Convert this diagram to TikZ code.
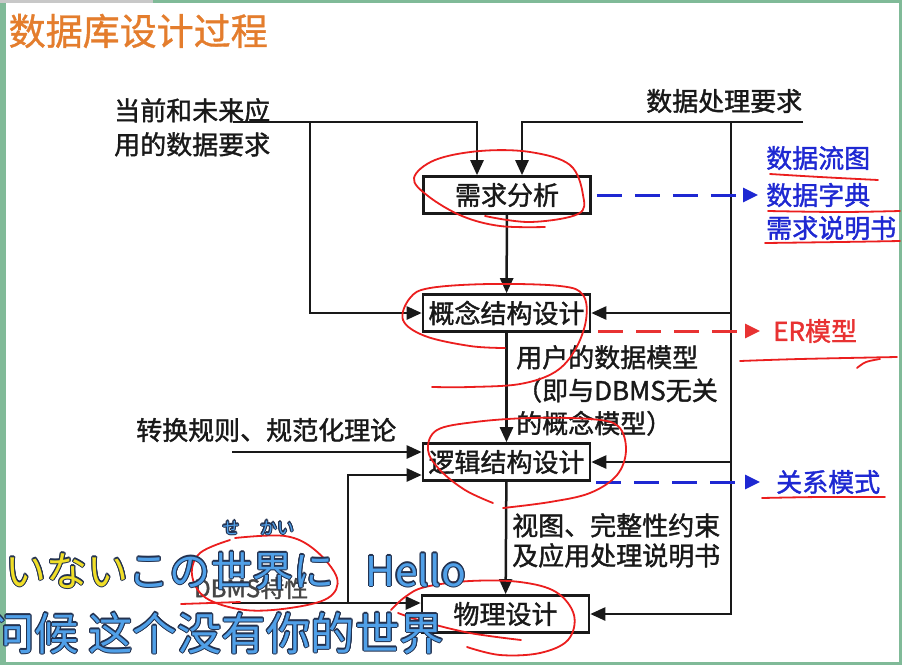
\documentclass[tikz,border=0pt]{standalone}
\usepackage{fontspec}
\setmainfont{Noto Sans CJK SC}[FakeBold=1.4]
\newfontfamily\titlefont{Noto Sans CJK SC}[FakeBold=1]
\newfontfamily\subcn{Noto Sans CJK SC}
\newfontfamily\jpfont{Noto Sans CJK JP}
\usetikzlibrary{arrows.meta}
\definecolor{frameg}{RGB}{128,186,152}
\definecolor{topgray}{RGB}{200,200,200}
\definecolor{ink}{RGB}{25,25,25}
\definecolor{titleor}{RGB}{228,125,45}
\definecolor{outblue}{RGB}{30,40,210}
\definecolor{outred}{RGB}{232,50,50}
\definecolor{penred}{RGB}{235,30,30}
\definecolor{subblue}{RGB}{80,160,232}
\definecolor{subdark}{RGB}{35,50,80}
\definecolor{subyel}{RGB}{240,222,40}
\definecolor{dimtext}{RGB}{70,70,70}
\newcommand\yel{\color{subyel}}
\newcommand\subtl[5]{%
  \foreach \ang in {0,30,...,330}{\node[subsh,anchor=#2,shift={(\ang:1.1)},font=#4] at #3 {#5};}
  \node[subfg,anchor=#2,font=#4] (#1) at #3 {#5};}
\begin{document}
\begin{tikzpicture}[x=1pt,y=-1pt,
  box/.style={draw=ink,line width=2.6pt,minimum width=167pt,minimum height=37pt,inner sep=0pt,fill=white,text=ink,font=\fontsize{26}{30}\selectfont},
  lbl/.style={inner sep=0pt,text=ink,align=left,font=\fontsize{26}{33}\selectfont},
  outb/.style={inner sep=0pt,text=outblue,font=\fontsize{26}{30}\selectfont},
  line/.style={draw=ink,line width=2.5pt},
  arr/.style={line,-{Triangle[length=15pt,width=13pt]}},
  bdash/.style={draw=outblue,line width=3pt,dash pattern=on 25pt off 13pt,-{Triangle[length=15pt,width=14pt]}},
  rdash/.style={draw=outred,line width=3pt,dash pattern=on 25pt off 13pt,-{Triangle[length=15pt,width=14pt]}},
  pen/.style={draw=penred,line width=1.8pt,line cap=round,line join=round},
  subsh/.style={inner sep=0pt,text=subdark,execute at begin node={\def\yel{}}},
  subfg/.style={inner sep=0pt,text=subblue}]
\useasboundingbox (0,0) rectangle (902,665);
% frame
\fill[frameg] (0,0) rectangle (902,665);
\fill[white] (6,3) rectangle (899,662);
\fill[topgray] (0,0) rectangle (153,3);
% title
\node[inner sep=0pt,anchor=west,text=titleor,font=\titlefont\fontsize{37}{40}\selectfont] (title) at (8.5,31) {数据库设计过程};
% process boxes
\node[box] (req) at (507,195) {需求分析};
\node[box] (con) at (506.5,313) {概念结构设计};
\node[box] (log) at (506.5,462) {逻辑结构设计};
\node[box] (phy) at (505.5,614) {物理设计};
% input texts
\node[lbl,anchor=north west] (txtA) at (114,98) {当前和未来应\\[1pt]用的数据要求};
\node[lbl,anchor=west] (txtB) at (646,101) {数据处理要求};
\node[lbl,anchor=west] (txtC) at (136,430) {转换规则、规范化理论};
\node[inner sep=0pt,anchor=west,text=dimtext,font=\fontsize{24}{28}\selectfont] (txtD) at (194,588) {DBMS特性};
\node[lbl,anchor=north west] (txtE) at (516,345) {用户的数据模型\\（即与DBMS无关\\的概念模型）};
\node[lbl,anchor=north west,font=\fontsize{26}{30}\selectfont] (txtF) at (512,513) {视图、完整性约束\\及应用处理说明书};
% outputs
\node[outb,anchor=west] (dfd) at (766,158) {数据流图};
\node[outb,anchor=west] (dd) at (766,195) {数据字典};
\node[outb,anchor=west] (srs) at (766,228) {需求说明书};
\node[inner sep=0pt,anchor=west,text=outred,font=\fontsize{26}{30}\selectfont] (er) at (773,331) {ER模型};
\node[outb,anchor=west] (rel) at (776,482) {关系模式};
% connectors
\coordinate (in1) at (233,122);
\coordinate (sp1) at (310,122);
\coordinate (in2) at (803,122);
\coordinate (sp2) at (731,122);
\draw[arr] (in1) -| ([xshift=-30pt]req.north);
\draw[arr] (sp1) |- (con.west);
\draw[arr] (in2) -| ([xshift=15pt]req.north);
\draw[arr] (sp2) |- (phy.east);
\draw[arr] (sp2 |- con.east) -- (con.east);
\draw[arr] (sp2 |- log.east) -- (log.east);
\draw[arr] (req) -- (con);
\draw[arr] (con) -- (log);
\draw[arr] (log) -- (phy);
\coordinate (in3) at (232,452);
\draw[arr] (in3) -- (in3 -| log.west);
\coordinate (in4) at (232,603);
\coordinate (sp4) at (348,603);
\draw[arr] (in4) -- (in4 -| phy.west);
\draw[arr] (sp4) |- ([yshift=-13pt]log.west);
% dashed outputs
\coordinate (ddS) at (dd.west -| req.east);
\draw[bdash] ([xshift=5pt]ddS) -- ([xshift=-8pt]dd.west);
\coordinate (erS) at (er.west -| con.east);
\draw[rdash] ([xshift=7pt]erS) -- ([xshift=-13pt]er.west);
\coordinate (relS) at (rel.west -| log.east);
\draw[bdash] ([xshift=5pt]relS) -- ([xshift=-16pt]rel.west);
% red pen annotations
\draw[pen] plot[smooth,tension=0.6] coordinates {(485,216) (530,222) (578,214) (583,195) (570,165) (530,152) (480,151) (435,160) (414,178) (428,196) (462,216) (500,226) (545,227)};
\draw[pen] plot[smooth,tension=0.6] coordinates {(770,174) (820,177) (878,180)};
\draw[pen] plot[smooth,tension=0.6] coordinates {(768,211) (840,212) (900,211)};
\draw[pen] plot[smooth,tension=0.6] coordinates {(765,243) (840,242) (900,241)};
\draw[pen] plot[smooth,tension=0.6] coordinates {(505,348) (470,346) (425,336) (403,320) (410,298) (430,288) (490,284) (560,286) (583,295) (586,320) (575,350) (555,372) (520,384) (470,387) (432,387)};
\draw[pen] plot[smooth,tension=0.6] coordinates {(740,361) (800,359) (897,357)};
\draw[pen] plot[smooth,tension=0.6] coordinates {(857,368) (866,362) (880,359)};
\draw[pen] plot[smooth,tension=0.6] coordinates {(493,503) (465,490) (440,470) (428,450) (437,430) (475,422) (530,418) (590,419) (618,426) (626,450) (617,475) (590,493) (550,502) (503,508)};
\draw[pen] plot[smooth,tension=0.6] coordinates {(762,498) (820,497) (885,497)};
\draw[pen] plot[smooth,tension=0.6] coordinates {(235,538) (285,536) (315,550) (337,578) (328,598) (290,608) (245,610) (206,598) (192,575) (200,553) (230,540)};
\draw[pen] plot[smooth,tension=0.6] coordinates {(181,604) (240,602)};
\draw[pen] plot[smooth,tension=0.6] coordinates {(391,610) (405,597) (425,587) (470,581) (520,582) (556,592) (574,615) (568,640) (540,653) (500,655) (467,647)};
\draw[pen] plot[smooth,tension=0.6] coordinates {(398,613) (425,622) (470,633) (521,640)};
% subtitles
\subtl{st1a}{base east}{(211,586)}{\jpfont\fontsize{41}{44}\selectfont}{{\yel いない}この}
\subtl{st1b}{base west}{(211,586)}{\jpfont\fontsize{41}{44}\selectfont}{世界に}
\subtl{st1c}{base west}{(365,586)}{\jpfont\fontsize{41}{44}\selectfont}{Hello}
\subtl{ru1}{base}{(231,534)}{\jpfont\fontsize{17}{18}\selectfont}{せ}
\subtl{ru2}{base}{(277,534)}{\jpfont\fontsize{17}{18}\selectfont}{かい}
\subtl{st2a}{base west}{(-10,650)}{\subcn\fontsize{44.5}{48}\selectfont}{问候}
\subtl{st2b}{base west}{(88,650)}{\subcn\fontsize{44.5}{48}\selectfont}{这个没有你的世界}
\end{tikzpicture}
\end{document}
